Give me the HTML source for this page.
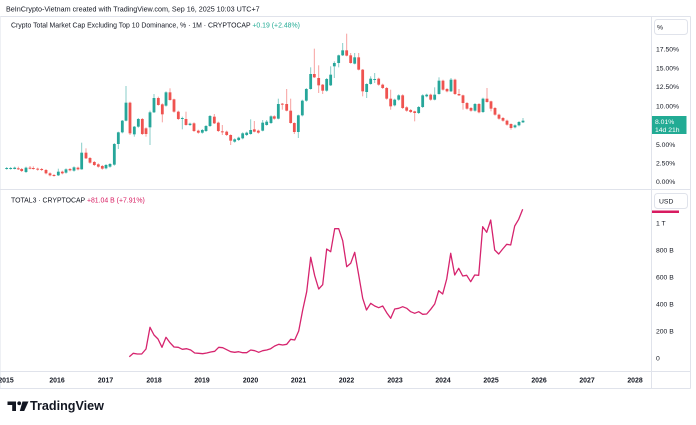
<!DOCTYPE html>
<html><head><meta charset="utf-8">
<style>
html,body{margin:0;padding:0;background:#fff;}
body{width:696px;height:425px;overflow:hidden;font-family:"Liberation Sans",sans-serif;}
svg{display:block}
text{font-family:"Liberation Sans",sans-serif;}
</style></head>
<body>
<svg id="c" width="696" height="425" viewBox="0 0 696 425" xmlns="http://www.w3.org/2000/svg">
<rect width="696" height="425" fill="#fff"/>
<!-- frame -->
<g stroke="#e0e3eb" stroke-width="1" fill="none">
<line x1="0" y1="16.5" x2="690.5" y2="16.5"/>
<line x1="0.5" y1="16.5" x2="0.5" y2="388.5" stroke="#eef0f4"/>
<line x1="690.5" y1="16.5" x2="690.5" y2="388.5"/>
<line x1="651.5" y1="16.5" x2="651.5" y2="388.5"/>
<line x1="0" y1="189.5" x2="690.5" y2="189.5"/>
<line x1="0" y1="371.5" x2="690.5" y2="371.5"/>
<line x1="0" y1="388.5" x2="690.5" y2="388.5"/>
</g>
<!-- header -->
<text x="6" y="11.5" font-size="7.2" fill="#131722">BeInCrypto-Vietnam created with TradingView.com, Sep 16, 2025 10:03 UTC+7</text>
<text x="11" y="27.5" font-size="6.9" fill="#131722">Crypto Total Market Cap Excluding Top 10 Dominance, % · 1M · CRYPTOCAP <tspan fill="#22ab94">+0.19 (+2.48%)</tspan></text>
<text x="11" y="202.5" font-size="6.9" fill="#131722">TOTAL3 · CRYPTOCAP <tspan fill="#d81b60">+81.04 B (+7.91%)</tspan></text>
<g id="candles"></g>
<polyline id="line" fill="none" stroke="#d6246e" stroke-width="1.3" stroke-linejoin="round" points=""/>
<!-- right axis top -->
<rect x="654.5" y="19.5" width="33" height="15" rx="3" fill="#fff" stroke="#e0e3eb"/>
<text x="657" y="29.5" font-size="6.8" fill="#131722">%</text>
<g font-size="6.8" fill="#131722">
<text x="656" y="51.5">17.50%</text>
<text x="656" y="70.5">15.00%</text>
<text x="656" y="89">12.50%</text>
<text x="656" y="108.5">10.00%</text>
<text x="656" y="147">5.00%</text>
<text x="656" y="165.5">2.50%</text>
<text x="656" y="184">0.00%</text>
</g>
<rect x="652" y="116" width="34.5" height="18" fill="#22ab94"/>
<text x="655" y="123.8" font-size="6.8" fill="#fff">8.01%</text>
<text x="655" y="131.8" font-size="6.8" fill="#fff">14d 21h</text>
<!-- right axis bottom -->
<rect x="652" y="210.5" width="27" height="2.5" fill="#d81b60"/>
<rect x="654.5" y="193.5" width="33" height="15" rx="3" fill="#fff" stroke="#e0e3eb"/>
<text x="659" y="203.5" font-size="6.8" fill="#131722">USD</text>
<g font-size="6.8" fill="#131722">
<text x="656" y="225.5">1 T</text>
<text x="656" y="252.5">800 B</text>
<text x="656" y="279.5">600 B</text>
<text x="656" y="306.5">400 B</text>
<text x="656" y="333.5">200 B</text>
<text x="656" y="360.5">0</text>
</g>
<!-- x axis -->
<g font-size="6.9" font-weight="bold" fill="#131722" text-anchor="middle">
<text x="6" y="382.5">2015</text>
<text x="57" y="382.5">2016</text>
<text x="105.5" y="382.5">2017</text>
<text x="154" y="382.5">2018</text>
<text x="202" y="382.5">2019</text>
<text x="250.5" y="382.5">2020</text>
<text x="298.5" y="382.5">2021</text>
<text x="346.5" y="382.5">2022</text>
<text x="395" y="382.5">2023</text>
<text x="443" y="382.5">2024</text>
<text x="491" y="382.5">2025</text>
<text x="539" y="382.5">2026</text>
<text x="587" y="382.5">2027</text>
<text x="635" y="382.5">2028</text>
</g>
<!-- logo -->
<g fill="#131722" transform="translate(0,5)">
<path d="M7.5 396.5 H16 V406 H12.2 V400 H7.5 Z"/>
<circle cx="19.2" cy="398.3" r="1.9"/>
<path d="M22.5 396.5 H28.5 L24.2 406 H19.8 Z"/>
<text x="30" y="405" font-size="12.6" font-weight="bold" fill="#131722">TradingView</text>
</g>
</svg>
<script>
(function(){
var NS="http://www.w3.org/2000/svg";
var G="#26a69a",R="#ef5350";
var z9=[[20,'g',294,296],[32,'g',294,296],[44,'g',293,297,290,298],[55,'r',295,297,290,300],[65,'r',297,303],[78,'g',293,306],[90,'r',293,295,288,298],[100,'r',294,296,289,299],[113,'r',296,299],[125,'r',297,300],[138,'r',300,310],[150,'r',310,316],[162,'r',315,317],[175,'g',305,316,296,318],[187,'r',305,310],[198,'g',298,308],[210,'r',297,301],[222,'g',292,302],[234,'r',293,298],[245,'g',248,298,218,299],[258,'r',248,265,235,267],[270,'r',264,278],[283,'r',276,285],[295,'r',283,290],[307,'r',288,296],[318,'g',285,295],[330,'g',282,290],[343,'g',222,284],[355,'g',187,222,185,237],[367,'g',152,187,150,190],[378,'g',98,152,48,154],[390,'r',98,190,95,195],[403,'g',170,193,168,200],[415,'g',147,170],[427,'r',147,192],[438,'r',175,192,172,200],[450,'g',127,172,122,225],[462,'g',84,127,72,129],[475,'r',84,105,80,107],[487,'r',103,133,100,157],[498,'g',67,107],[510,'r',67,90,55,92],[522,'r',88,125,86,128],[535,'r',125,147],[547,'g',144,147,140,178],[558,'r',147,165,125,167],[570,'g',161,165],[582,'r',160,183],[595,'r',182,188],[607,'g',180,188],[618,'g',168,183],[630,'g',138,168],[643,'r',140,160,132,162],[655,'r',158,183],[667,'r',184,187,165,195],[680,'r',185,195],[692,'r',195,212,193,225],[704,'g',208,215],[716,'g',203,210],[728,'g',190,205],[740,'g',188,195],[752,'g',180,192,148,194],[763,'r',178,185,153,187],[775,'r',182,188],[788,'g',158,182,150,184],[800,'g',155,165,150,167]];
var z10=[[3,'g',265,285],[13,'r',265,272],[25,'g',228,272,212,274],[37,'r',227,230,225,245],[50,'r',228,248,183,250],[62,'r',248,285,212,287],[73,'r',285,312,283,318],[85,'g',262,312,260,330],[97,'g',218,262],[109,'g',183,218],[122,'g',138,183,118,185],[133,'r',138,148,62,150],[146,'r',150,172,112,195],[158,'r',170,188,168,198],[170,'g',153,188],[182,'g',140,172,115,174],[193,'g',105,115,100,150],[206,'g',82,105,80,118],[218,'g',67,82,45,84],[230,'r',67,83,17,85],[242,'r',82,105,75,107],[254,'g',88,107,75,109],[266,'r',88,125,75,127],[278,'r',125,190,123,205],[290,'g',168,192,166,210],[302,'g',152,168,145,170],[314,'g',153,156,135,165],[326,'r',152,170],[338,'r',170,180],[350,'r',180,212],[362,'r',212,235,185,245],[374,'g',215,232],[386,'g',202,215],[398,'r',202,240],[410,'r',238,248],[422,'r',246,252],[434,'r',250,255,248,280],[446,'g',237,255],[458,'g',202,237],[470,'g',200,205],[482,'r',200,215],[494,'g',200,215,178,217],[507,'g',158,198,148,200],[519,'r',158,185],[531,'r',183,190],[543,'g',155,190,150,192],[555,'r',155,198],[567,'r',198,202,183,204],[579,'r',202,225,200,245],[591,'r',225,242],[603,'r',240,248],[615,'g',228,248],[627,'r',228,253],[639,'g',212,252],[651,'r',212,222,180,224],[663,'r',220,242,218,250],[675,'r',240,260],[687,'r',260,272],[699,'r',270,278],[711,'r',278,290],[723,'r',288,300,286,305],[735,'g',292,298],[747,'g',282,292],[759,'g',278,283,270,285]];
var g=document.getElementById('candles');
function add(x,c,t,b,wt,wb){
  var col=c=='g'?G:R;
  var w=document.createElementNS(NS,'rect');
  w.setAttribute('x',(x-0.5).toFixed(2));w.setAttribute('y',wt.toFixed(2));
  w.setAttribute('width','1');w.setAttribute('height',Math.max(0.5,wb-wt).toFixed(2));
  w.setAttribute('fill',col);w.setAttribute('fill-opacity','0.55');g.appendChild(w);
  var r=document.createElementNS(NS,'rect');
  r.setAttribute('x',(x-1.4).toFixed(2));r.setAttribute('y',t.toFixed(2));
  r.setAttribute('width','2.8');r.setAttribute('height',Math.max(1,b-t).toFixed(2));
  r.setAttribute('fill',col);g.appendChild(r);
}
z9.forEach(function(d){
  var wt=d.length>4?d[4]:d[2]-3, wb=d.length>4?d[5]:d[3]+3;
  add(d[0]/3,d[1],70+d[2]/3,70+d[3]/3,70+wt/3,70+wb/3);
});
z10.forEach(function(d){
  var wt=d.length>4?d[4]:d[2]-3, wb=d.length>4?d[5]:d[3]+3;
  add(270+d[0]/3,d[1],28+d[2]/3,28+d[3]/3,28+wt/3,28+wb/3);
});
var pts=[[129.3,356.7],[133.3,353.3],[137.3,354],[141.7,354],[146,349],[150,327.3],[154,335],[158,339],[162,347.3],[166,337.3],[170,342.7],[174,347],[178.3,347.3],[182.3,349.3],[186.7,348.7],[190.7,350],[194.7,353],[198.7,353.3],[202.7,353.7],[206.7,353],[210.7,352],[214.7,351.3],[218.7,347.3],[222.7,347.7],[226.7,349.7],[230.7,351.7],[234.7,352.3],[238.7,351.7],[242.7,352.7],[246.7,352.7],[250.7,350],[254.7,350.7],[258.7,352.3],[262.7,350.7],[266.7,350],[270.7,348.7],[274.7,346],[278.7,344.3],[282.7,345],[286.7,344.3],[290.7,339.3],[294.7,340],[298.7,331],[302.7,310],[306.7,291.7],[310.7,257.3],[314.7,275.7],[318.7,289],[322.7,284.7],[326.7,249],[330.7,251.7],[334.7,228.7],[338.7,228.7],[342.7,240.7],[346.7,266.7],[350.7,263.3],[354.7,252.3],[358.7,275],[362.7,298.3],[366.5,310],[370.7,303.3],[374.7,306],[378.7,307.7],[382.7,306],[386.7,312.7],[390.7,318.3],[394.7,309],[398.7,308.3],[402.7,306.7],[406.7,308.3],[410.7,311.7],[414.7,313.3],[418.7,311.7],[422.7,314.3],[426.7,314],[430.7,309.3],[434.7,304],[438.7,290.7],[442.7,294],[446.7,279],[450.7,253.3],[454.7,275],[458.7,268.3],[462.7,276],[466.7,275.3],[470.7,281.7],[474.7,275],[478.7,275.3],[482.7,226.7],[486.7,232.3],[490.7,220],[494.7,250],[498.7,254],[502.7,249],[506.7,244.3],[510.7,245],[514.7,226],[518.7,219.3],[522.7,209.3]];
document.getElementById('line').setAttribute('points',pts.map(function(p){return p[0]+','+p[1];}).join(' '));
})();
</script>
</body></html>
